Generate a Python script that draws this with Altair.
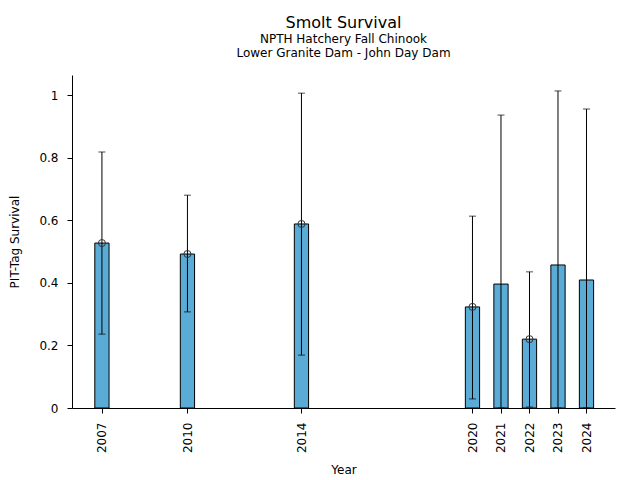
import altair as alt
import pandas as pd

years = [2007, 2010, 2014, 2020, 2021, 2022, 2023, 2024]
survival = [0.527, 0.492, 0.588, 0.323, 0.396, 0.220, 0.457, 0.409]
lower = [0.236, 0.307, 0.169, 0.029, 0.0, 0.003, 0.0, 0.0]
upper = [0.818, 0.680, 1.006, 0.613, 0.936, 0.435, 1.013, 0.955]
marker = [True, True, True, True, False, True, False, False]

df = pd.DataFrame({"year": years, "surv": survival, "lo": lower, "hi": upper, "marker": marker})

FONT = "DejaVu Sans"
xscale = alt.Scale(domain=[2005.95, 2025.0], nice=False, zero=False)
yscale = alt.Scale(domain=[0, 1.064], nice=False)
xaxis = alt.Axis(values=years, labelAngle=270, format="d", grid=False,
                 tickSize=5, labelPadding=9, titlePadding=12)
yaxis = alt.Axis(values=[0, 0.2, 0.4, 0.6, 0.8, 1.0], format="~g", grid=False,
                 tickSize=5, labelPadding=9, titlePadding=17)

def X(f):
    return alt.X(f, scale=xscale, title="Year", axis=xaxis)

def Y(f):
    return alt.Y(f, scale=yscale, title="PIT-Tag Survival", axis=yaxis)

base = alt.Chart(df).transform_calculate(
    x0="datum.year - 0.25", x1="datum.year + 0.25", zero="0"
)

bars = base.mark_bar(color="#5AACD6", stroke="black", strokeWidth=1).encode(
    x=X("x0:Q"), x2="x1:Q", y=Y("surv:Q"), y2="zero:Q",
)

rules = base.mark_rule(color="black", strokeWidth=1).encode(
    x=X("year:Q"), y=Y("lo:Q"), y2="hi:Q",
)

cap_lo = base.mark_tick(color="black", orient="horizontal", size=7, thickness=1).encode(
    x=X("year:Q"), y=Y("lo:Q"),
)
cap_hi = base.mark_tick(color="black", orient="horizontal", size=7, thickness=1).encode(
    x=X("year:Q"), y=Y("hi:Q"),
)

points = base.transform_filter("datum.marker").mark_point(
    shape="circle", filled=False, color="#333333", size=50, strokeWidth=1, opacity=1
).encode(
    x=X("year:Q"), y=Y("surv:Q"),
)

chart = alt.layer(bars, rules, cap_lo, cap_hi, points).properties(
    width=543, height=333,
    autosize=alt.AutoSizeParams(type="none"),
    padding={"left": 64, "top": 67, "right": 17, "bottom": 72},
    title=alt.TitleParams(
        text="Smolt Survival",
        subtitle=["NPTH Hatchery Fall Chinook", "Lower Granite Dam - John Day Dam"],
        font=FONT, subtitleFont=FONT, fontSize=16, subtitleFontSize=12,
        fontWeight="normal", color="black", subtitleColor="black",
        anchor="middle", offset=16, subtitlePadding=3, subtitleLineHeight=14,
    ),
).configure_view(stroke=None).configure_axis(
    domainColor="black", tickColor="black", labelColor="black", titleColor="black",
    labelFont=FONT, titleFont=FONT, labelFontSize=12, titleFontSize=12,
    titleFontWeight="normal", domainWidth=1, tickWidth=1,
).configure_axisY(titleAngle=270)

chart.save("out.html", embed_options={"renderer": "svg", "actions": False})
